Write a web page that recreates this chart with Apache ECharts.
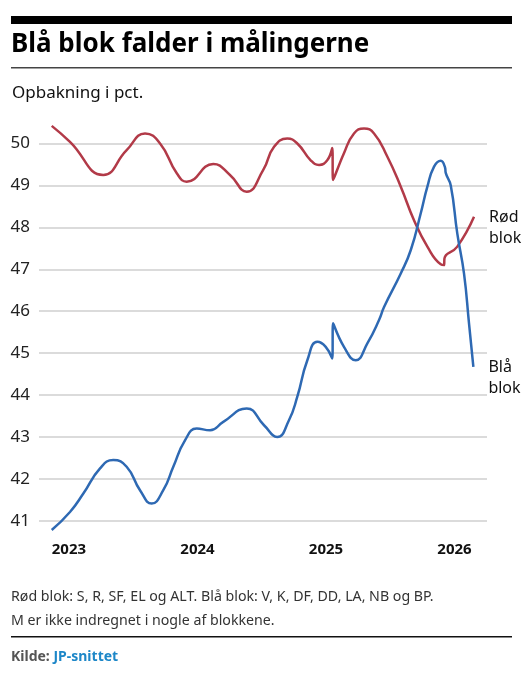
<!DOCTYPE html>
<html>
<head>
<meta charset="utf-8">
<script src="https://cdn.jsdelivr.net/npm/echarts@6/dist/echarts.min.js"></script>
<style>
  html, body { margin: 0; padding: 0; background: #fff; }
  #chart { width: 529px; height: 680px; }
</style>
</head>
<body>
<div id="chart"></div>
<script>
// tidspunkt i decimalår, opbakning i pct.
var rodTid = [2022.866, 2023.008, 2023.267, 2023.449, 2023.592, 2023.709, 2023.839, 2023.916,
    2024.123, 2024.253, 2024.383, 2024.512, 2024.596, 2024.699, 2024.777, 2024.881, 2024.946,
    2025.010, 2025.049, 2025.055, 2025.140, 2025.218, 2025.296, 2025.374, 2025.477, 2025.582,
    2025.685, 2025.789, 2025.893, 2025.919, 2025.922, 2026.022, 2026.152];
var rodPct = [50.42, 50.04, 49.25, 49.84, 50.24, 50.0, 49.29, 49.09,
    49.51, 49.25, 48.85, 49.37, 49.92, 50.12, 50.0, 49.6, 49.49,
    49.6, 49.89, 49.13, 49.77, 50.24, 50.36, 50.24, 49.69, 48.97,
    48.17, 47.54, 47.12, 47.10, 47.26, 47.54, 48.25];

var blaaTid = [2022.866, 2023.008, 2023.112, 2023.242, 2023.345, 2023.449, 2023.553, 2023.644,
    2023.734, 2023.812, 2023.903, 2023.994, 2024.098, 2024.201, 2024.383, 2024.518, 2024.621,
    2024.712, 2024.777, 2024.855, 2024.933, 2024.998, 2025.049, 2025.055, 2025.140, 2025.232,
    2025.322, 2025.413, 2025.452, 2025.582, 2025.660, 2025.737, 2025.789, 2025.841, 2025.893,
    2025.927, 2025.932, 2025.971, 2026.022, 2026.074, 2026.113, 2026.147];
var blaaPct = [40.78, 41.21, 41.65, 42.25, 42.45, 42.29, 41.73, 41.41,
    41.73, 42.29, 42.92, 43.20, 43.16, 43.36, 43.68, 43.28, 43.0,
    43.4, 43.96, 44.83, 45.27, 45.15, 44.87, 45.71, 45.15, 44.83,
    45.23, 45.79, 46.1, 46.9, 47.46, 48.33, 48.97, 49.45, 49.59,
    49.42, 49.3, 49.0, 47.85, 46.9, 45.71, 44.67];

var aarstal = [2023, 2024, 2025, 2026];

var font = '"Noto Sans", sans-serif';

function pairs(xs, ys) {
    return xs.map(function (x, i) { return [x, ys[i]]; });
}

var chart = echarts.init(document.getElementById('chart'), null, { renderer: 'canvas' });

var options = {
    backgroundColor: '#fff',
    animation: false,
    textStyle: { fontFamily: font },
    title: [
        {
            text: 'Blå blok falder i målingerne',
            left: 6,
            top: 27,
            textStyle: { fontSize: 26, fontWeight: 'bold', color: '#000', fontFamily: font }
        },
        {
            text: 'Opbakning i pct.',
            left: 7,
            top: 80,
            textStyle: { fontSize: 17, fontWeight: 'normal', color: '#111', fontFamily: font }
        }
    ],
    graphic: [
        { type: 'rect', shape: { x: 11, y: 16, width: 501, height: 8 }, style: { fill: '#000' } },
        { type: 'rect', shape: { x: 11, y: 67, width: 501, height: 1.5 }, style: { fill: '#444' } },
        {
            type: 'text', left: 11, top: 585,
            style: {
                text: 'Rød blok: S, R, SF, EL og ALT. Blå blok: V, K, DF, DD, LA, NB og BP.\nM er ikke indregnet i nogle af blokkene.',
                fontSize: 14.2, lineHeight: 24, fill: '#333', fontFamily: font
            }
        },
        { type: 'rect', shape: { x: 11, y: 636, width: 501, height: 1.5 }, style: { fill: '#111' } },
        {
            type: 'text', left: 11, top: 650,
            style: {
                rich: {
                    k: { fontSize: 14, fontWeight: 'bold', fill: '#555', fontFamily: font },
                    s: { fontSize: 14, fontWeight: 'bold', fill: '#1d87c8', fontFamily: font }
                },
                text: '{k|Kilde: }{s|JP-snittet}'
            }
        }
    ],
    grid: { left: 39, right: 42, top: 143.5, bottom: 159.2 },
    xAxis: {
        type: 'value',
        min: 2022.767,
        max: 2026.253,
        axisLine: { show: false },
        axisTick: { show: false },
        splitLine: { show: false },
        axisLabel: {
            customValues: aarstal,
            margin: 21,
            fontSize: 15,
            fontWeight: 'bold',
            color: '#111',
            fontFamily: font,
            formatter: function (v) { return String(Math.round(v)); }
        }
    },
    yAxis: {
        type: 'value',
        min: 41,
        max: 50,
        interval: 1,
        axisLine: { show: false },
        axisTick: { show: false },
        splitLine: { lineStyle: { color: '#cfcfcf', width: 1.5 } },
        axisLabel: { margin: 9, fontSize: 17, color: '#222', fontFamily: font }
    },
    series: [
        {
            name: 'Rød blok',
            type: 'line',
            data: pairs(rodTid, rodPct),
            smooth: 0.5,
            showSymbol: false,
            clip: false,
            lineStyle: { color: '#b23a48', width: 2.5 },
            endLabel: {
                show: true,
                formatter: 'Rød\nblok',
                offset: [7, 11],
                fontSize: 16,
                lineHeight: 21,
                color: '#111',
                fontFamily: font
            }
        },
        {
            name: 'Blå blok',
            type: 'line',
            data: pairs(blaaTid, blaaPct),
            smooth: 0.5,
            showSymbol: false,
            clip: false,
            lineStyle: { color: '#2e69b3', width: 2.5 },
            endLabel: {
                show: true,
                formatter: 'Blå\nblok',
                offset: [7, 11],
                fontSize: 16,
                lineHeight: 21,
                color: '#111',
                fontFamily: font
            }
        }
    ]
};

chart.setOption(options);
window.addEventListener('resize', function () {
    chart.resize();
});
</script>
</body>
</html>
